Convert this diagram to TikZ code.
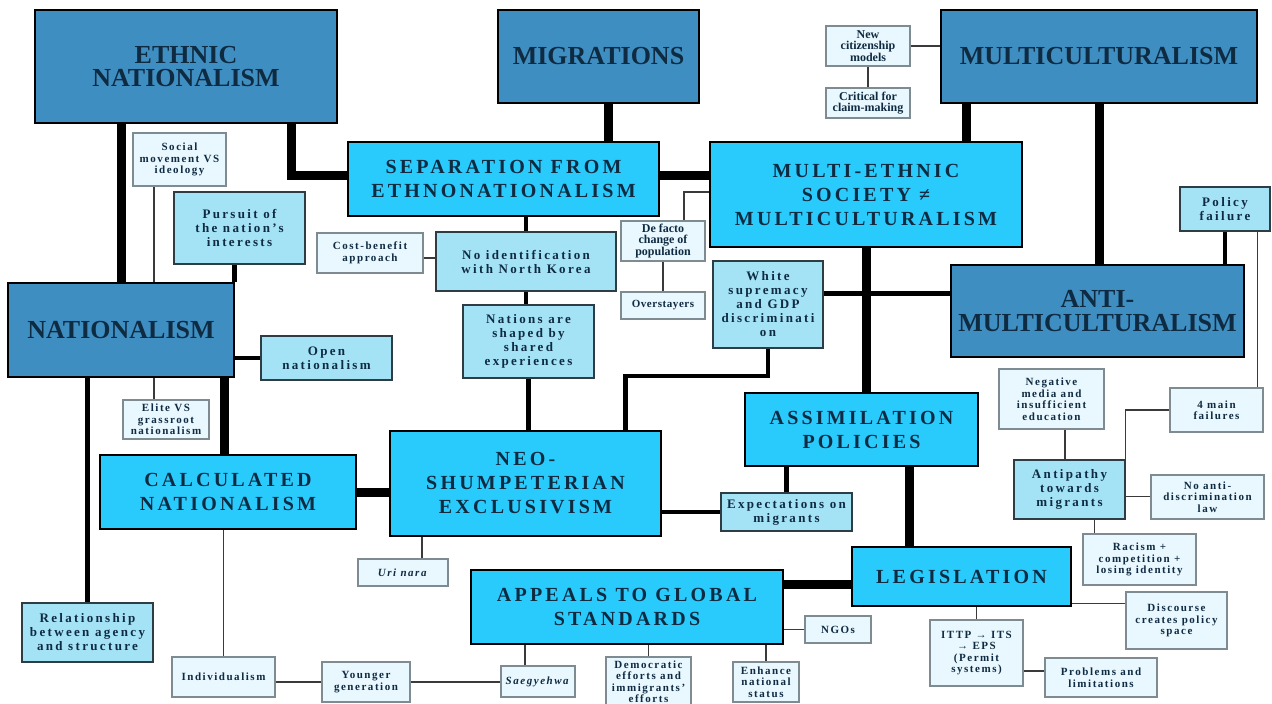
\documentclass[tikz,border=0pt]{standalone}
\usepackage{fontspec}
\setmainfont{Liberation Serif}
\usetikzlibrary{calc}
\definecolor{dkbox}{HTML}{3F8EC1}
\definecolor{cybox}{HTML}{29CAFC}
\definecolor{mdbox}{HTML}{A4E2F5}
\definecolor{ltbox}{HTML}{E9F8FE}
\definecolor{txt}{HTML}{0F2B42}
\definecolor{ltborder}{HTML}{7E8B91}
\definecolor{mdborder}{HTML}{2E3D44}
\definecolor{thinline}{HTML}{3A3A3A}
\pgfdeclarelayer{bg}
\pgfsetlayers{bg,main}
\tikzset{
 base/.style={inner sep=0pt, align=center, text=txt, rectangle},
 darkbox/.style={base, fill=dkbox, draw=black, line width=2.5pt, font=\bfseries\fontsize{26}{23.5}\selectfont},
 cyanbox/.style={base, fill=cybox, draw=black, line width=2.5pt, font=\bfseries\fontsize{20}{24}\selectfont\addfontfeature{LetterSpace=16}},
 medbox/.style={base, fill=mdbox, draw=mdborder, line width=1.5pt, font=\bfseries\fontsize{13}{14}\selectfont\addfontfeature{LetterSpace=18}},
 lightbox/.style={base, fill=ltbox, draw=ltborder, line width=1.2pt, font=\bfseries\fontsize{11}{11.5}\selectfont\addfontfeature{LetterSpace=14}},
 lightns/.style={base, fill=ltbox, draw=ltborder, line width=1.2pt, font=\bfseries\fontsize{12}{11.5}\selectfont},
 heavy/.style={line width=9pt, black},
 medium/.style={line width=4.5pt, black},
 thin/.style={line width=1.4pt, thinline},
}
\newcommand\bx[7]{\node[#6, minimum width={#4-#2}, minimum height={#5-#3}] (#1) at ({(#2+#4)/2},{(#3+#5)/2}) {#7};}
\begin{document}
\begin{tikzpicture}[x=1pt,y=-1pt]
\useasboundingbox (0,0) rectangle (1272,704);

% dark boxes
\bx{eth}{35}{10}{337}{123}{darkbox}{ETHNIC\\NATIONALISM}
\bx{mig}{498}{10}{699}{103}{darkbox}{MIGRATIONS}
\bx{mc}{941}{10}{1257}{103}{darkbox}{MULTICULTURALISM}
\bx{nat}{8}{283}{234}{377}{darkbox}{NATIONALISM}
\bx{anti}{951}{265}{1244}{357}{darkbox}{ANTI-\\MULTICULTURALISM}

% cyan boxes
\bx{sep}{348}{142}{659}{216}{cyanbox}{SEPARATION FROM\\ETHNONATIONALISM}
\bx{mul}{710}{142}{1022}{247}{cyanbox}{MULTI-ETHNIC\\SOCIETY ≠\\MULTICULTURALISM}
\bx{ass}{745}{393}{978}{466}{cyanbox}{ASSIMILATION\\POLICIES}
\bx{cal}{100}{455}{356}{529}{cyanbox}{CALCULATED\\NATIONALISM}
\bx{neo}{390}{431}{661}{536}{cyanbox}{NEO-\\SHUMPETERIAN\\EXCLUSIVISM}
\bx{app}{471}{570}{783}{644}{cyanbox}{APPEALS TO GLOBAL\\STANDARDS}
\bx{leg}{852}{547}{1071}{606}{cyanbox}{LEGISLATION}

% medium boxes
\bx{pur}{174}{192}{305}{264}{medbox}{Pursuit of\\the nation’s\\interests}
\bx{noid}{436}{232}{616}{291}{medbox}{No identification\\with North Korea}
\bx{shp}{463}{305}{594}{378}{medbox}{Nations are\\shaped by\\shared\\experiences}
\bx{white}{713}{261}{823}{348}{medbox}{White\\supremacy\\and GDP\\discriminati\\on}
\bx{open}{261}{336}{392}{380}{medbox}{Open\\nationalism}
\bx{pol}{1180}{187}{1270}{231}{medbox}{Policy\\failure}
\bx{exp}{721}{493}{852}{531}{medbox}{Expectations on\\migrants}
\bx{antip}{1014}{460}{1125}{519}{medbox}{Antipathy\\towards\\migrants}
\bx{rel}{22}{603}{153}{662}{medbox}{Relationship\\between agency\\and structure}

% light boxes
\bx{soc}{133}{133}{226}{186}{lightbox}{Social\\movement VS\\ideology}
\bx{nc}{826}{26}{910}{66}{lightns}{New\\citizenship\\models}
\bx{crit}{826}{88}{910}{118}{lightns}{Critical for\\claim-making}
\bx{cb}{317}{233}{423}{273}{lightbox}{Cost-benefit\\approach}
\bx{def}{621}{221}{705}{261}{lightns}{De facto\\change of\\population}
\bx{over}{621}{292}{705}{319}{lightns}{\addfontfeature{LetterSpace=5}\fontsize{11}{11.5}\selectfont Overstayers}
\bx{elite}{123}{400}{209}{439}{lightbox}{Elite VS\\grassroot\\nationalism}
\bx{neg}{999}{369}{1104}{429}{lightbox}{Negative\\media and\\insufficient\\education}
\bx{four}{1170}{388}{1263}{432}{lightbox}{4 main\\failures}
\bx{noanti}{1151}{475}{1264}{519}{lightbox}{No anti-\\discrimination\\law}
\bx{rac}{1083}{534}{1196}{585}{lightbox}{Racism +\\competition +\\losing identity}
\bx{uri}{358}{559}{448}{586}{lightbox}{\textit{Uri nara}}
\bx{ngo}{805}{616}{871}{643}{lightbox}{NGOs}
\bx{disc}{1126}{592}{1227}{649}{lightbox}{Discourse\\creates policy\\space}
\bx{ittp}{930}{620}{1023}{686}{lightbox}{ITTP → ITS\\→ EPS\\(Permit\\systems)}
\bx{prob}{1045}{658}{1157}{697}{lightbox}{Problems and\\limitations}
\bx{ind}{172}{657}{275}{697}{lightbox}{Individualism}
\bx{yng}{322}{662}{410}{702}{lightbox}{Younger\\generation}
\bx{saeg}{501}{666}{575}{697}{lightbox}{\textit{Saegyehwa}}
\bx{dem}{606}{657}{691}{706}{lightbox}{Democratic\\efforts and\\immigrants’\\efforts}
\bx{enh}{733}{662}{799}{702}{lightbox}{Enhance\\national\\status}

\begin{pgfonlayer}{bg}
\fill[white] (0,0) rectangle (1272,704);
% heavy connectors
\draw[heavy] (eth.south -| nat.north) -- (nat.north);
\draw[heavy] ([xshift=-47pt]eth.south east) |- ([yshift=4pt]sep.west);
\draw[heavy] ([xshift=10pt]mig.south) -- ([xshift=10pt]mig.south |- sep.north);
\draw[heavy] ([yshift=4pt]sep.east) -- ([yshift=4pt]sep.east -| mul.west);
\draw[heavy] ([xshift=-133pt]mc.south) -- ([xshift=-133pt]mc.south |- mul.north);
\draw[heavy] (mc.south) -- (mc.south |- anti.north);
\draw[heavy] (mul.south) -- (mul.south |- ass.north);
\draw[heavy] ([xshift=48pt]ass.south) -- ([xshift=48pt]ass.south |- leg.north);
\draw[heavy] ([yshift=-8pt]leg.west) -- ([yshift=-8pt]leg.west -| app.east);
\draw[heavy] (cal.east) -- (cal.east -| neo.west);
\draw[heavy] ([xshift=-11pt]nat.south east) -- ([xshift=-11pt]nat.south east |- cal.north);
% medium connectors
\draw[medium] (open.west -| nat.east) -- (open.west);
\draw[medium] ([yshift=11pt]white.east) -- ([yshift=11pt]white.east -| anti.west);
\draw[medium] (white.south) -- ([yshift=-27pt]white.south) -| ([xshift=100pt]neo.north);
\draw[medium] (shp.south) -- (shp.south |- neo.north);
\draw[medium] (noid.south) -- (noid.south |- shp.north);
\draw[medium] (noid.north |- sep.south) -- (noid.north);
\draw[medium] ([xshift=-1pt]nat.north east) -- ([xshift=-1pt]nat.north east |- pur.south);
\draw[medium] (rel.north |- nat.south) -- (rel.north);
\draw[medium] (exp.west -| neo.east) -- (exp.west);
\draw[medium] (exp.north |- ass.south) -- (exp.north);
\draw[medium] (pol.south) -- (pol.south |- anti.north);
% thin connectors
\draw[thin] (nc.east) -- (nc.east -| mc.west);
\draw[thin] (nc.south) -- (crit.north);
\draw[thin] ([xshift=-25.5pt]soc.south) -- ([xshift=-25.5pt]soc.south |- nat.north);
\draw[thin] ([yshift=-5pt]cb.east) -- ([yshift=-5pt]cb.east -| noid.west);
\draw[thin] ([yshift=2.5pt]mul.west) -| ([xshift=21pt]def.north);
\draw[thin] (def.south) -- (over.north);
\draw[thin] ([xshift=-12pt]elite.north) -- ([xshift=-12pt]elite.north |- nat.south);
\draw[thin] ([xshift=-4.5pt]antip.north) -- ([xshift=-4.5pt]antip.north |- neg.south);
\draw[thin] (four.west) -| (antip.north east);
\draw[thin] ([xshift=-13pt]pol.south east) -- ([xshift=-13pt]pol.south east |- four.north);
\draw[thin] ([yshift=-7pt]antip.east) -- ([yshift=-7pt]antip.east -| noanti.west);
\draw[thin] ([xshift=-45pt]rac.north) -- ([xshift=-45pt]rac.north |- antip.south);
\draw[thin] ([yshift=4pt]leg.south east) -- ([yshift=4pt]leg.south east -| disc.west);
\draw[thin] (ittp.north |- leg.south) -- (ittp.north);
\draw[thin] ([yshift=6.5pt]prob.west) -- ([yshift=6.5pt]prob.west -| ittp.east);
\draw[thin] (ngo.west -| app.east) -- (ngo.west);
\draw[thin] ([xshift=-13pt]saeg.north) -- ([xshift=-13pt]saeg.north |- app.south);
\draw[thin] (dem.north |- app.south) -- (dem.north);
\draw[thin] (enh.north |- app.south) -- (enh.north);
\draw[thin] ([xshift=19pt]uri.north) -- ([xshift=19pt]uri.north |- neo.south);
\draw[thin] (ind.north |- cal.south) -- (ind.north);
\draw[thin] (yng.west) -- (yng.west -| ind.east);
\draw[thin] (yng.east) -- (yng.east -| saeg.west);
\end{pgfonlayer}
\end{tikzpicture}
\end{document}
